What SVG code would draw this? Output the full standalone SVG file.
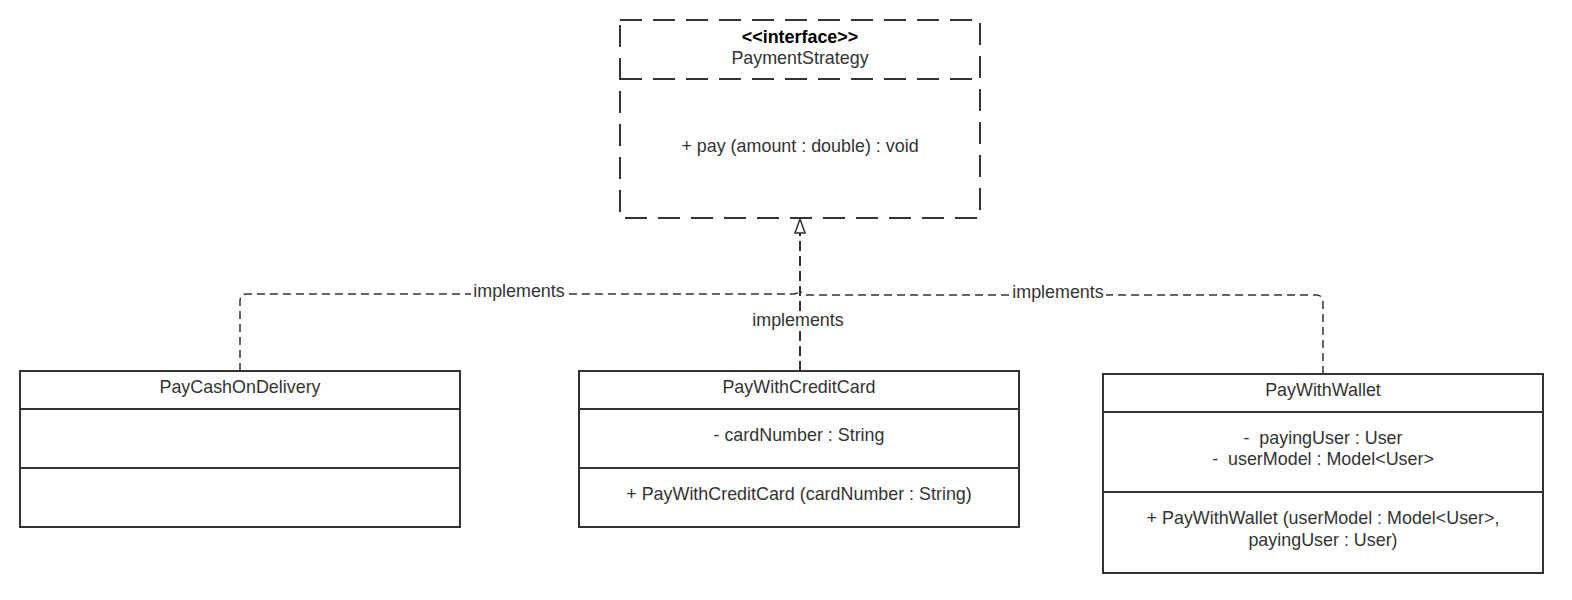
<svg xmlns="http://www.w3.org/2000/svg" width="1572" height="600" viewBox="0 0 1572 600">
<defs>
<style>
.box{fill:#fff;stroke:#333;stroke-width:2}
.dbox{fill:#fff;stroke:#333;stroke-width:2;stroke-dasharray:22 11}
.t{font-family:"Liberation Sans",Arial,sans-serif;font-size:17.9px;fill:#333;text-anchor:middle;white-space:pre}
.b{font-weight:bold;fill:#000}
.conn{fill:none;stroke:#333;stroke-width:1.5;stroke-dasharray:8 5}
.connm{fill:none;stroke:#333;stroke-width:2;stroke-dasharray:10 5}
.lbg{fill:#fff}
</style>
</defs>
<rect width="1572" height="600" fill="#fff"/>
<g id="connectors">
<path class="conn" d="M240 371 V301 Q240 294 247 294 H793 Q800 294 800 287"/>
<path class="conn" d="M1323 374 V302 Q1323 295 1316 295 H807 Q800 295 800 288"/>
<path class="connm" d="M800 371 V232"/>
<path d="M800 219 L805 233 L795 233 Z" fill="#fff" stroke="#333" stroke-width="1.5"/>
<rect class="lbg" x="471" y="283" width="96" height="18"/>
<text class="t" x="519" y="297">implements</text>
<rect class="lbg" x="1010" y="284" width="96" height="18"/>
<text class="t" x="1058" y="298">implements</text>
<rect class="lbg" x="751" y="311" width="94" height="19"/>
<text class="t" x="798" y="326">implements</text>
</g>
<g id="PaymentStrategy">
<rect class="dbox" x="620" y="20" width="360" height="198"/>
<line x1="620" y1="79" x2="980" y2="79" stroke="#333" stroke-width="2" stroke-dasharray="22 11"/>
<text class="t b" x="800" y="43">&lt;&lt;interface&gt;&gt;</text>
<text class="t" x="800" y="64">PaymentStrategy</text>
<text class="t" x="800" y="152">+ pay (amount : double) : void</text>
</g>
<g id="PayCashOnDelivery">
<rect class="box" x="20" y="371" width="440" height="156"/>
<line x1="20" y1="409" x2="460" y2="409" stroke="#333" stroke-width="2"/>
<line x1="20" y1="468" x2="460" y2="468" stroke="#333" stroke-width="2"/>
<text class="t" x="240" y="393">PayCashOnDelivery</text>
</g>
<g id="PayWithCreditCard">
<rect class="box" x="579" y="371" width="440" height="156"/>
<line x1="579" y1="409" x2="1019" y2="409" stroke="#333" stroke-width="2"/>
<line x1="579" y1="468" x2="1019" y2="468" stroke="#333" stroke-width="2"/>
<text class="t" x="799" y="393">PayWithCreditCard</text>
<text class="t" x="799" y="441">- cardNumber : String</text>
<text class="t" x="799" y="500">+ PayWithCreditCard (cardNumber : String)</text>
</g>
<g id="PayWithWallet">
<rect class="box" x="1103" y="374" width="440" height="199"/>
<line x1="1103" y1="412" x2="1543" y2="412" stroke="#333" stroke-width="2"/>
<line x1="1103" y1="492" x2="1543" y2="492" stroke="#333" stroke-width="2"/>
<text class="t" x="1323" y="396">PayWithWallet</text>
<text class="t" x="1323" y="444">-  payingUser : User</text>
<text class="t" x="1323" y="465">-  userModel : Model&lt;User&gt;</text>
<text class="t" x="1323" y="524">+ PayWithWallet (userModel : Model&lt;User&gt;,</text>
<text class="t" x="1323" y="546">payingUser : User)</text>
</g>
</svg>
